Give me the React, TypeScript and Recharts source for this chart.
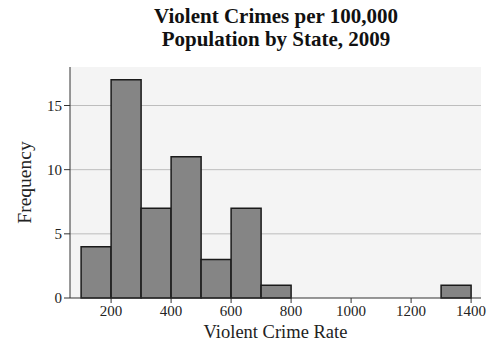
import { ComposedChart, Bar, XAxis, YAxis, CartesianGrid, Label } from "recharts";

const binStarts = [100, 200, 300, 400, 500, 600, 700, 1300];
const binEnds = [200, 300, 400, 500, 600, 700, 800, 1400];
const frequencies = [4, 17, 7, 11, 3, 7, 1, 1];
const xTicks = [200, 400, 600, 800, 1000, 1200, 1400];
const yTicks = [0, 5, 10, 15];

const data = binStarts.map((s, i) => ({
  mid: (s + binEnds[i]) / 2,
  freq: frequencies[i],
}));

const serif = "'Liberation Serif', 'Times New Roman', serif";

export default function App() {
  return (
    <div style={{ position: "fixed", left: 0, top: 0, width: 499, height: 348, background: "#fff" }}>
      <div
        style={{
          position: "absolute",
          left: 0,
          top: 5,
          width: 552,
          textAlign: "center",
          fontFamily: serif,
          fontWeight: "bold",
          fontSize: 21,
          lineHeight: "23px",
          color: "#111",
        }}
      >
        Violent Crimes per 100,000
        <br />
        Population by State, 2009
      </div>
      <ComposedChart
        width={499}
        height={348}
        data={data}
        barCategoryGap={0}
        margin={{ top: 67, right: 18, bottom: 6, left: 0 }}
      >
        <CartesianGrid vertical={false} fill="#f4f4f4" stroke="#bdbdbd" horizontalValues={[5, 10, 15]} />
        <XAxis
          dataKey="mid"
          type="number"
          domain={[63, 1433]}
          ticks={xTicks}
          height={44}
          allowDataOverflow
          stroke="#333"
          tickSize={5}
          tick={{ fill: "#222", fontSize: 15, fontFamily: serif }}
        >
          <Label value="Violent Crime Rate" position="insideBottom" offset={4} style={{ fill: "#222", fontSize: 18.5, fontFamily: serif }} />
        </XAxis>
        <YAxis
          type="number"
          domain={[0, 18]}
          ticks={yTicks}
          width={70}
          stroke="#333"
          tickSize={6}
          tick={{ fill: "#222", fontSize: 15, fontFamily: serif }}
        >
          <Label value="Frequency" angle={-90} position="insideLeft" offset={24} style={{ fill: "#222", fontSize: 19.5, fontFamily: serif, textAnchor: "middle" }} />
        </YAxis>
        <Bar dataKey="freq" fill="#858585" stroke="#1a1a1a" strokeWidth={1.5} isAnimationActive={false} />
      </ComposedChart>
    </div>
  );
}
